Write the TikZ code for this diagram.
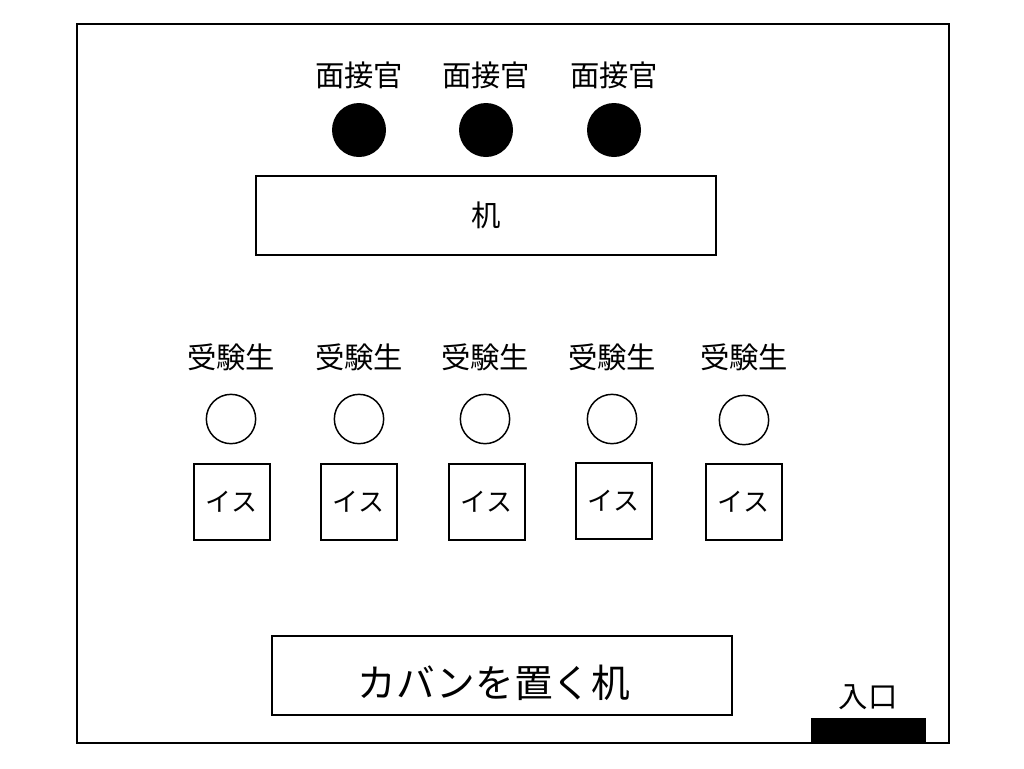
\documentclass[tikz,border=0pt]{standalone}
\usepackage{fontspec}
\setmainfont{Noto Sans CJK JP}
\usepackage{tikz}
\usetikzlibrary{positioning}

\begin{document}
\begin{tikzpicture}[x=0.75pt,y=-0.75pt,
  label/.style={font=\fontsize{22pt}{24pt}\selectfont, inner sep=0pt},
  boss/.style={circle, fill=black, minimum size=40.5pt, inner sep=0pt},
  seat/.style={circle, draw, line width=1.1pt, minimum size=37pt, inner sep=0pt},
  chair/.style={rectangle, draw, line width=1.5pt, minimum size=57pt, inner sep=0pt, font=\fontsize{19.5pt}{22pt}\selectfont},
  desk/.style={rectangle, draw, line width=1.5pt, minimum width=345pt, minimum height=59pt, inner sep=0pt}]
\useasboundingbox (0,0) rectangle (1024,768);
\draw[line width=1.5pt] (77,24) rectangle (949,743) ; %room

% interviewers
\node[boss] (i1) at (359,130) {};
\node[boss] (i2) at (486,130) {};
\node[boss] (i3) at (614,130) {};
\node[label] (li1) at (359,75) {面接官};
\node[label] (li2) at (486,75) {面接官};
\node[label] (li3) at (614,75) {面接官};

\node[desk] (table) at (486,215.5) {};
\node[label] at (table) {机};

% students
\node[label] (ls1) at (231,357) {受験生};
\node[label] (ls2) at (359,357) {受験生};
\node[label] (ls3) at (485,357) {受験生};
\node[label] (ls4) at (612,357) {受験生};
\node[label] (ls5) at (744,357) {受験生};
\node[seat] (s1) at (231,419) {};
\node[seat] (s2) at (359,419) {};
\node[seat] (s3) at (485,419) {};
\node[seat] (s4) at (612,419) {};
\node[seat] (s5) at (744,420) {};
\node[chair] (c1) at (231.5,501.5) {イス};
\node[chair] (c2) at (358.5,501.5) {イス};
\node[chair] (c3) at (486.5,501.5) {イス};
\node[chair] (c4) at (613.5,500.5) {イス};
\node[chair] (c5) at (743.5,501.5) {イス};

\node[desk] (bags) at (502,675.5) {};
\node[inner sep=0pt, font=\fontsize{29pt}{32pt}\selectfont] (lbags) at (494,683) {カバンを置く机};

% entrance
\fill (811,718) rectangle (926,743);
\node[label] (door) at (868,697) {入口};
\end{tikzpicture}
\end{document}
